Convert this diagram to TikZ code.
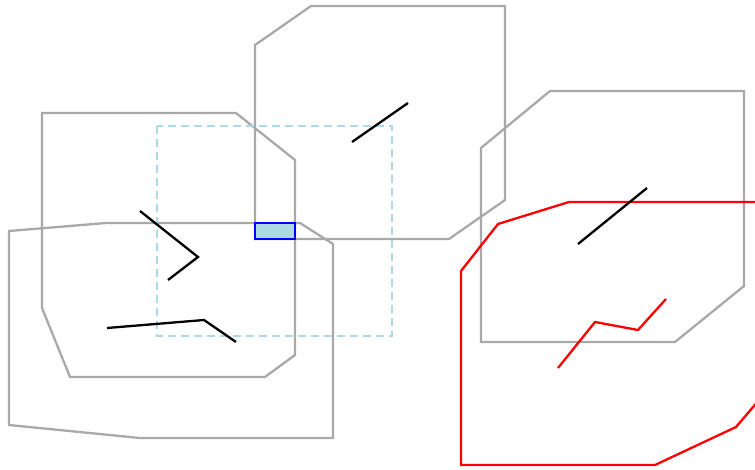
\documentclass[tikz,border=0pt]{standalone}
\usepackage{tikz}
\begin{document}
\begin{tikzpicture}[x=1pt,y=-1pt,
  region/.style={draw=regiongray, line width=2.3pt, line join=miter},
  hotregion/.style={draw=red, line width=2.3pt},
  trackline/.style={draw=black, line width=2.3pt},
  hottrack/.style={draw=red, line width=2.3pt},
  window/.style={draw=windowblue, line width=2.3pt, dash pattern=on 8pt off 5pt},
  overlap/.style={draw=blue, fill=windowblue, line width=2.3pt}]
\definecolor{regiongray}{RGB}{169,169,169}
\definecolor{windowblue}{RGB}{173,216,230}
\useasboundingbox (0,0) rectangle (755,469);
\clip (0,0) rectangle (755,469);

% grey regions
\draw[region] (255,45) -- (311,6) -- (505,6) -- (505,200) -- (449,239) -- (255,239) -- cycle;
\draw[region] (42,113) -- (236,113) -- (295,160) -- (295,355) -- (265,377) -- (70,377) -- (42,308) -- cycle;
\draw[region] (9,231) -- (106,223) -- (300,223) -- (333,244) -- (333,438) -- (140,438) -- (9,425) -- cycle;
\draw[region] (481,148) -- (550,91) -- (744,91) -- (744,286) -- (675,342) -- (481,342) -- cycle;

% search window
\draw[window] (157,126) rectangle (392,336);

% red region and track
\draw[hotregion] (461,271) -- (498,224) -- (569,202) -- (765,202) -- (765,393) -- (736,427) -- (655,465) -- (461,465) -- cycle;
\draw[hottrack] (558,368) -- (595,322) -- (638,330) -- (666,299);

% black tracks
\draw[trackline] (578,244) -- (647,188);
\draw[trackline] (352,142) -- (408,103);
\draw[trackline] (140,211) -- (198,257) -- (168,280);
\draw[trackline] (107,328) -- (204,320) -- (236,342);

% overlap cell
\draw[overlap] (255,223) rectangle (295,239);
\end{tikzpicture}
\end{document}
